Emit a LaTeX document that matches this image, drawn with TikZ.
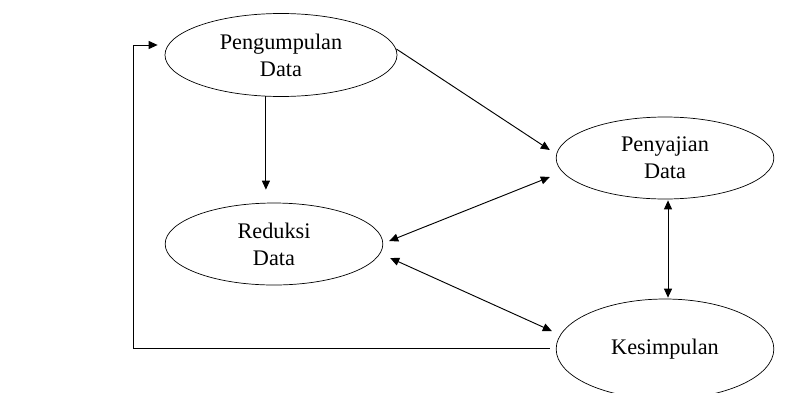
\documentclass[tikz,border=0pt]{standalone}
\usepackage{fontspec}
\setmainfont{Liberation Serif}
\usetikzlibrary{calc,shapes,arrows.meta,positioning}
\tikzset{%
  stage/.style={ellipse,draw,line width=0.6pt,minimum width=6.53cm,minimum height=2.46cm,
    align=center,font=\fontsize{19}{23}\selectfont},
  flow/.style={line width=0.8pt,-{Triangle[length=0.27cm,width=0.24cm]}},
  both/.style={line width=0.8pt,{Triangle[length=0.27cm,width=0.24cm]}-{Triangle[length=0.27cm,width=0.24cm]}}
}

\begin{document}
\begin{tikzpicture}[x=0.03cm,y=-0.03cm]
    \useasboundingbox (0,0) rectangle (797,392);

    \node [stage,minimum width=6.96cm,minimum height=2.49cm] (peng) at (281,55) {Pengumpulan\\Data};
    \node [stage] (peny) at (665,158) {Penyajian\\Data};
    \node [stage] (red) [below=5.67cm of peng.center,anchor=center,xshift=-0.21cm] {Reduksi\\Data};
    \node [stage,minimum height=3cm] (kes) [below=5.73cm of peny.center,anchor=center] {Kesimpulan};

    \coordinate (back) at (133,45);

    \draw [flow] ($(peng.east)+(-1,-6)$) -- ($(peny.west)+(-6,-8)$);
    \draw [flow] (peng.250) -- (peng.250 |- red.north) [shorten >=0.39cm];
    \draw [both] ($(red.east)+(6,-3)$) -- ($(peny.west)+(-6,19)$);
    \draw [both] ($(red.east)+(7,14)$) -- ($(kes.west)+(-4,-18)$);
    \draw [both] ($(peny.south)+(3,1)$) -- ($(kes.north)+(3,-1)$);
    \draw [flow] ($(kes.west)+(-6,-1)$) -| (back) -- ($(peng.west)+(-7,-10)$);
\end{tikzpicture}
\end{document}
